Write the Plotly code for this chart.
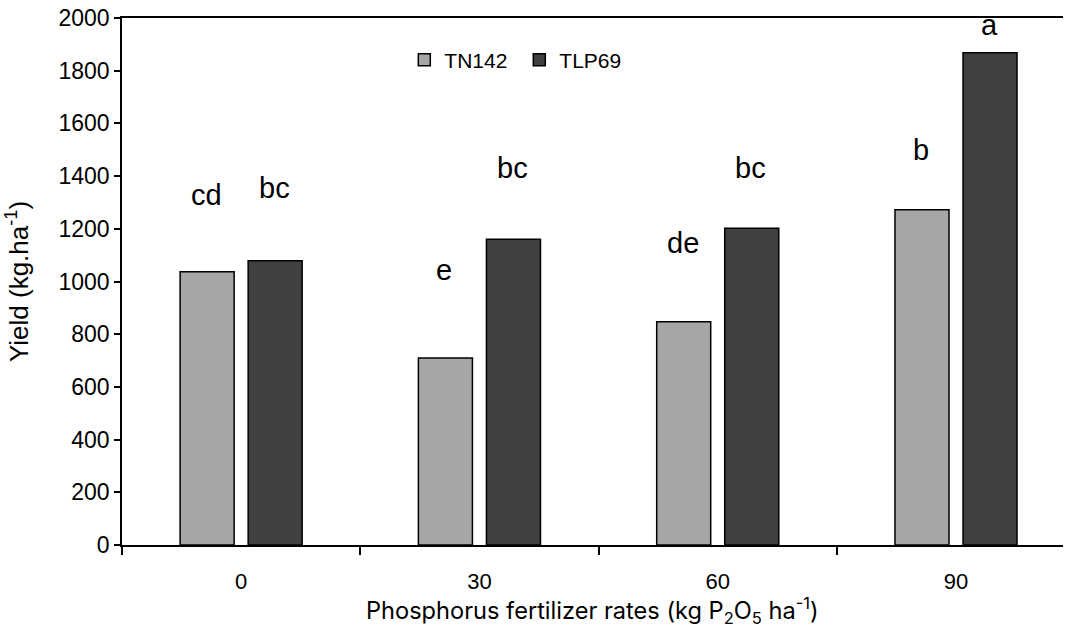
import plotly.graph_objects as go

categories = ["0", "30", "60", "90"]
tn142 = [1037, 710, 847, 1272]
tlp69 = [1079, 1160, 1202, 1868]
tn142_letters = ["cd", "e", "de", "b"]
tlp69_letters = ["bc", "bc", "bc", "a"]
tn142_letter_y = [1328, 1044, 1146, 1499]
tlp69_letter_y = [1355, 1431, 1431, 1973]
y_ticks = list(range(0, 2001, 200))

fig = go.Figure()
fig.add_trace(go.Bar(name="TN142", x=categories, y=tn142,
                     marker=dict(color="#A6A6A6", line=dict(color="black", width=1.5))))
fig.add_trace(go.Bar(name="TLP69", x=categories, y=tlp69,
                     marker=dict(color="#404040", line=dict(color="black", width=1.5))))

annotations = []
for i, c in enumerate(categories):
    annotations.append(dict(x=i, y=tn142_letter_y[i], text=tn142_letters[i], xref="x", yref="y",
                            showarrow=False, xshift=-35, font=dict(size=29, color="black", family="Liberation Sans")))
    annotations.append(dict(x=i, y=tlp69_letter_y[i], text=tlp69_letters[i], xref="x", yref="y",
                            showarrow=False, xshift=33, font=dict(size=29, color="black", family="Liberation Sans")))

# x-axis title as paper annotation
annotations.append(dict(x=0.5, y=-0.1245, xref="paper", yref="paper", xanchor="center", yanchor="middle",
                        showarrow=False,
                        text="Phosphorus fertilizer rates (kg P<sub>2</sub>O<sub>5</sub> ha<sup>-1</sup>)",
                        font=dict(size=23.6, family="Inter", color="black")))

fig.update_layout(
    width=1067, height=630,
    margin=dict(l=122, r=4, t=18, b=85),
    paper_bgcolor="white", plot_bgcolor="white",
    barmode="group", bargap=0.429, bargroupgap=0.206,
    font=dict(family="Liberation Sans", size=20, color="black"),
    annotations=annotations,
    showlegend=True,
    legend=dict(orientation="h", x=0.30, y=0.92, xanchor="left", yanchor="middle",
                font=dict(size=21, family="Liberation Sans"), bgcolor="rgba(0,0,0,0)",
                itemwidth=30, entrywidth=70, entrywidthmode="pixels", traceorder="normal"),
    xaxis=dict(type="category", range=[-0.5, 3.449], tickson="boundaries",
               ticks="outside", ticklen=8, tickcolor="black", tickwidth=1.5,
               showline=True, linecolor="black", linewidth=1.5, mirror=True,
               showgrid=False, zeroline=False, ticklabelstandoff=16,
               tickfont=dict(size=22, family="Liberation Sans"), automargin=False),
    yaxis=dict(range=[0, 2000], tickvals=y_ticks, ticks="outside", ticklen=6,
               tickcolor="black", tickwidth=1.5, showline=True, linecolor="black", linewidth=1.5,
               showgrid=False, zeroline=False, automargin=False,
               tickfont=dict(size=23, family="Liberation Sans"),
               title=dict(text="Yield (kg.ha<sup>-1</sup>)", font=dict(size=26, family="Liberation Sans"),
                          standoff=22)),
)

fig.write_html("out.html")
